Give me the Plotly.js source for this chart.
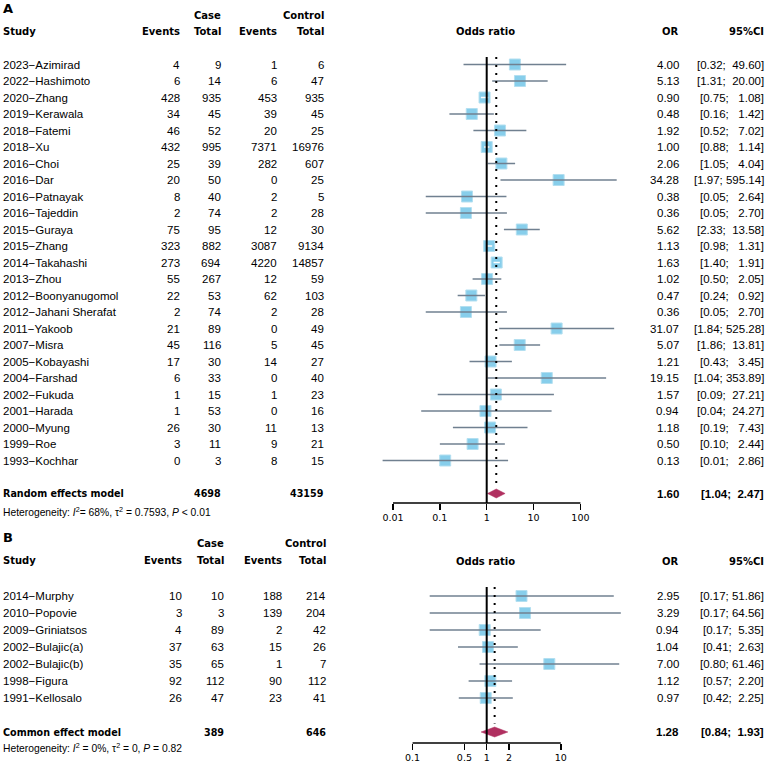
<!DOCTYPE html>
<html>
<head>
<meta charset="utf-8">
<script src="https://cdn.plot.ly/plotly-3.0.1.min.js"></script>
<style>html,body{margin:0;padding:0;background:#fff;}#chart{width:766px;height:763px;}</style>
</head>
<body>
<div id="chart"></div>
<script>
// ---------- Panel A data ----------
const studiesA = ["2023\u2212Azimirad","2022\u2212Hashimoto","2020\u2212Zhang","2019\u2212Kerawala","2018\u2212Fatemi","2018\u2212Xu","2016\u2212Choi","2016\u2212Dar","2016\u2212Patnayak","2016\u2212Tajeddin","2015\u2212Guraya","2015\u2212Zhang","2014\u2212Takahashi","2013\u2212Zhou","2012\u2212Boonyanugomol","2012\u2212Jahani Sherafat","2011\u2212Yakoob","2007\u2212Misra","2005\u2212Kobayashi","2004\u2212Farshad","2002\u2212Fukuda","2001\u2212Harada","2000\u2212Myung","1999\u2212Roe","1993\u2212Kochhar"];
const caseEventsA = [4,6,428,34,46,432,25,20,8,2,75,323,273,55,22,2,21,45,17,6,1,1,26,3,0];
const caseTotalA  = [9,14,935,45,52,995,39,50,40,74,95,882,694,267,53,74,89,116,30,33,15,53,30,11,3];
const ctrlEventsA = [1,6,453,39,20,7371,282,0,2,2,12,3087,4220,12,62,2,0,5,14,0,1,0,11,9,8];
const ctrlTotalA  = [6,47,935,45,25,16976,607,25,5,28,30,9134,14857,59,103,28,49,45,27,40,23,16,13,21,15];
const orA  = [4.00,5.13,0.90,0.48,1.92,1.00,2.06,34.28,0.38,0.36,5.62,1.13,1.63,1.02,0.47,0.36,31.07,5.07,1.21,19.15,1.57,0.94,1.18,0.50,0.13];
const loA  = [0.32,1.31,0.75,0.16,0.52,0.88,1.05,1.97,0.05,0.05,2.33,0.98,1.40,0.50,0.24,0.05,1.84,1.86,0.43,1.04,0.09,0.04,0.19,0.10,0.006];
const hiA  = [49.60,20.00,1.08,1.42,7.02,1.14,4.04,595.14,2.64,2.70,13.58,1.31,1.91,2.05,0.92,2.70,525.28,13.81,3.45,353.89,27.21,24.27,7.43,2.44,2.86];
const sumA = {label:"Random effects model", caseTotal:4698, ctrlTotal:43159, or:1.60, lo:1.04, hi:2.47};
const hetA = "Heterogeneity: <i>I</i><sup>2</sup>= 68%, \u03c4<sup>2</sup> = 0.7593, <i>P</i> &lt; 0.01";
const ticksA = [0.01,0.1,1,10,100];
const tickTextA = ["0.01","0.1","1","10","100"];

// ---------- Panel B data ----------
const studiesB = ["2014\u2212Murphy","2010\u2212Popovie","2009\u2212Griniatsos","2002\u2212Bulajic(a)","2002\u2212Bulajic(b)","1998\u2212Figura","1991\u2212Kellosalo"];
const caseEventsB = [10,3,4,37,35,92,26];
const caseTotalB  = [10,3,89,63,65,112,47];
const ctrlEventsB = [188,139,2,15,1,90,23];
const ctrlTotalB  = [214,204,42,26,7,112,41];
const orB = [2.95,3.29,0.94,1.04,7.00,1.12,0.97];
const loB = [0.17,0.17,0.17,0.41,0.80,0.57,0.42];
const hiB = [51.86,64.56,5.35,2.63,61.46,2.20,2.25];
const sumB = {label:"Common effect model", caseTotal:389, ctrlTotal:646, or:1.28, lo:0.84, hi:1.93};
const hetB = "Heterogeneity: <i>I</i><sup>2</sup> = 0%, \u03c4<sup>2</sup> = 0, <i>P</i> = 0.82";
const ticksB = [0.1,0.5,1,2,10];
const tickTextB = ["0.1","0.5","1","2","10"];

// ---------- styling ----------
const W = 766, H = 763;
const SQ = '#87CEEB', SQLINE = '#b3dff0', CIC = '#708090', DIA = '#B03060';
const fReg  = {family:'Liberation Sans, Arial, sans-serif', size:11.5, color:'#000'};
const fRegB = {family:'Liberation Sans, Arial, sans-serif', size:11.5, color:'#000', weight:'bold'};
const fHead = {family:'DejaVu Sans, Verdana, sans-serif', size:10, color:'#000', weight:'bold'};
const fSum  = {family:'DejaVu Sans, Verdana, sans-serif', size:9.6, color:'#000', weight:'bold'};
const fLet  = {family:'DejaVu Sans, Verdana, sans-serif', size:13, color:'#000', weight:'bold'};
const fHet  = {family:'Liberation Sans, Arial, sans-serif', size:10.3, color:'#000'};
const fTick = {family:'DejaVu Sans, Verdana, sans-serif', size:9.5, color:'#000'};

function ann(xpx, y, yref, text, xanchor, font) {
  return {xref:'paper', x:xpx / W, yref:yref, y:(yref === 'paper' ? 1 - y / H : y),
          text:text, xanchor:xanchor, yanchor:'middle', showarrow:false, font:font,
          borderpad:0, borderwidth:0};
}
function ciText(lo, hi, w) {
  const h = hi.toFixed(2);
  return '[' + lo.toFixed(2) + '; ' + '\u00a0'.repeat(Math.max(0, w - h.length)) + h + ']';
}

const annotations = [];
const shapes = [];
const traces = [];

function panel(cfg) {
  const {studies, ce, ct, ke, kt, or, lo, hi, sum, het, xa, ya, yref, cols, head, hetY, sumRow, ciW, letter, halfH, dotEnd} = cfg;
  // header
  annotations.push(ann(3, head.letterY, 'paper', letter, 'left', fLet));
  annotations.push(ann(cols.ct, head.caseY, 'paper', 'Case', 'right', fHead));
  annotations.push(ann(cols.kt, head.caseY, 'paper', 'Control', 'right', fHead));
  annotations.push(ann(3, head.studyY, 'paper', 'Study', 'left', fHead));
  annotations.push(ann(cols.ce, head.studyY, 'paper', 'Events', 'right', fHead));
  annotations.push(ann(cols.ct, head.studyY, 'paper', 'Total', 'right', fHead));
  annotations.push(ann(cols.ke, head.studyY, 'paper', 'Events', 'right', fHead));
  annotations.push(ann(cols.kt, head.studyY, 'paper', 'Total', 'right', fHead));
  annotations.push(ann(486, head.orY, 'paper', 'Odds ratio', 'center', fHead));
  annotations.push(ann(678.5, head.orY, 'paper', 'OR', 'right', fHead));
  annotations.push(ann(763.5, head.orY, 'paper', '95%CI', 'right', fHead));
  // rows
  const rows = studies.map((s, i) => i + 1);
  studies.forEach((s, i) => {
    const r = rows[i];
    annotations.push(ann(3, r, yref, s, 'left', fReg));
    annotations.push(ann(cols.ce, r, yref, String(ce[i]), 'right', fReg));
    annotations.push(ann(cols.ct, r, yref, String(ct[i]), 'right', fReg));
    annotations.push(ann(cols.ke, r, yref, String(ke[i]), 'right', fReg));
    annotations.push(ann(cols.kt, r, yref, String(kt[i]), 'right', fReg));
    annotations.push(ann(678.5, r, yref, or[i].toFixed(2), 'right', fReg));
    annotations.push(ann(763.5, r, yref, ciText(lo[i], hi[i], ciW), 'right', fReg));
  });
  // summary row
  annotations.push(ann(3, sumRow, yref, sum.label, 'left', fSum));
  annotations.push(ann(cols.ct, sumRow, yref, String(sum.caseTotal), 'right', fSum));
  annotations.push(ann(cols.kt, sumRow, yref, String(sum.ctrlTotal), 'right', fSum));
  annotations.push(ann(678.5, sumRow, yref, sum.or.toFixed(2), 'right', fRegB));
  annotations.push(ann(763.5, sumRow, yref, ciText(sum.lo, sum.hi, 5), 'right', fRegB));
  annotations.push(ann(3, hetY, 'paper', het, 'left', fHet));

  // reference lines
  shapes.push({type:'line', xref:xa, yref:yref + ' domain', x0:1, x1:1, y0:0, y1:1, line:{color:'#000', width:2}});
  shapes.push({type:'line', xref:xa, yref:yref, x0:sum.or, x1:sum.or, y0:cfg.yTop, y1:dotEnd, line:{color:'#000', width:2, dash:'2px,6px'}});
  shapes.push({type:'line', xref:xa, yref:yref + ' domain', x0:cfg.ticks[0], x1:cfg.ticks[cfg.ticks.length - 1], y0:0, y1:0, line:{color:'#000', width:1.5}});

  // squares
  traces.push({type:'scatter', mode:'markers', xaxis:xa, yaxis:ya, x:or, y:rows,
    marker:{symbol:'square', size:11, color:SQ, line:{color:SQLINE, width:1}}, hoverinfo:'skip'});
  // CI lines: grey, or white when entirely inside the square
  const gx = [], gy = [], wx = [], wy = [];
  const decade = cfg.decadePx;
  or.forEach((v, i) => {
    const spanPx = (Math.log10(hi[i]) - Math.log10(lo[i])) * decade;
    const inside = spanPx < 11;
    const X = inside ? wx : gx, Y = inside ? wy : gy;
    X.push(lo[i], hi[i], null); Y.push(rows[i], rows[i], null);
  });
  traces.push({type:'scatter', mode:'lines', xaxis:xa, yaxis:ya, x:gx, y:gy, line:{color:CIC, width:1.6}, hoverinfo:'skip'});
  traces.push({type:'scatter', mode:'lines', xaxis:xa, yaxis:ya, x:wx, y:wy, line:{color:'#ffffff', width:1.6}, hoverinfo:'skip'});
  // diamond
  traces.push({type:'scatter', mode:'lines', xaxis:xa, yaxis:ya,
    x:[sum.lo, sum.or, sum.hi, sum.or, sum.lo],
    y:[sumRow, sumRow - halfH, sumRow, sumRow + halfH, sumRow],
    fill:'toself', fillcolor:DIA, line:{color:DIA, width:0.5}, hoverinfo:'skip'});
}

// Panel A geometry: row 1 at 64.5px, 16.5px per row; value 1 at 486.7px, 46.85px per decade
const aTop = 57, aBot = 503, aRow1 = 64.5, aStep = 16.5;
const aYTop = (aTop - aRow1) / aStep + 1, aYBot = (aBot - aRow1) / aStep + 1;
const bTop = 587, bBot = 743, bRow1 = 596, bStep = 17;
const bYTop = (bTop - bRow1) / bStep + 1, bYBot = (bBot - bRow1) / bStep + 1;
const one = 486.7, decA = 46.85, decB = 74.1;
const rangeA = [-2.5, 3], rangeB = [-1.5, 2];

panel({studies:studiesA, ce:caseEventsA, ct:caseTotalA, ke:ctrlEventsA, kt:ctrlTotalA,
  or:orA, lo:loA, hi:hiA, sum:sumA, het:hetA, xa:'x', ya:'y', yref:'y',
  cols:{ce:179.5, ct:221, ke:276.5, kt:324}, head:{letterY:9, caseY:15, studyY:32, orY:32},
  hetY:511, sumRow:27, ciW:6, letter:'A', halfH:4.5 / aStep, dotEnd:26.6, yTop:aYTop,
  ticks:ticksA, decadePx:decA});
panel({studies:studiesB, ce:caseEventsB, ct:caseTotalB, ke:ctrlEventsB, kt:ctrlTotalB,
  or:orB, lo:loB, hi:hiB, sum:sumB, het:hetB, xa:'x2', ya:'y2', yref:'y2',
  cols:{ce:181.7, ct:224, ke:281.7, kt:325.5}, head:{letterY:537, caseY:543, studyY:560, orY:561},
  hetY:747, sumRow:9, ciW:5, letter:'B', halfH:5 / bStep, dotEnd:8.5, yTop:bYTop,
  ticks:ticksB, decadePx:decB});

const axCommon = {type:'log', showgrid:false, zeroline:false, showline:false, ticks:'outside',
  ticklen:6, tickwidth:1.5, tickcolor:'#000', tickfont:fTick, fixedrange:true};
const layout = {
  width:W, height:H, margin:{l:0, r:0, t:0, b:0}, paper_bgcolor:'#fff', plot_bgcolor:'rgba(0,0,0,0)',
  showlegend:false, hovermode:false,
  xaxis: Object.assign({}, axCommon, {anchor:'y', range:rangeA,
    domain:[(one + rangeA[0] * decA) / W, (one + rangeA[1] * decA) / W],
    tickvals:ticksA, ticktext:tickTextA}),
  yaxis: {anchor:'x', range:[aYBot, aYTop], domain:[1 - aBot / H, 1 - aTop / H], visible:false, fixedrange:true},
  xaxis2: Object.assign({}, axCommon, {anchor:'y2', range:rangeB,
    domain:[(one + rangeB[0] * decB) / W, (one + rangeB[1] * decB) / W],
    tickvals:ticksB, ticktext:tickTextB}),
  yaxis2: {anchor:'x2', range:[bYBot, bYTop], domain:[1 - bBot / H, 1 - bTop / H], visible:false, fixedrange:true},
  annotations:annotations, shapes:shapes
};
Plotly.newPlot('chart', traces, layout, {staticPlot:true, displayModeBar:false});
</script>
</body>
</html>
